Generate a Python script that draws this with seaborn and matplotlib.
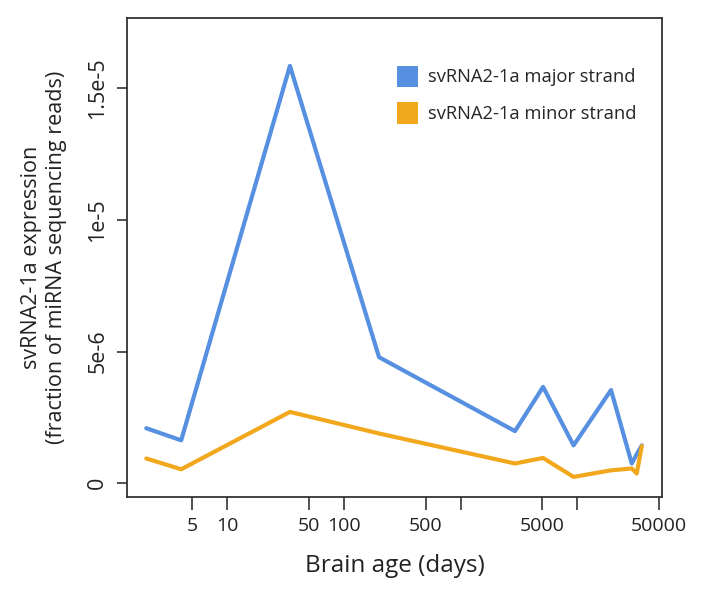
import numpy as np
import pandas as pd
import matplotlib
matplotlib.use("Agg")
import matplotlib.pyplot as plt
import seaborn as sns
from matplotlib.patches import Patch

# --- data ---
AGE_DAYS = [2.03, 4.04, 34.5, 200, 2920, 5080, 9270, 19400, 29200, 32200, 35600]
MAJOR = [2.09, 1.63, 15.86, 4.79, 1.98, 3.66, 1.44, 3.54, 0.75, 1.10, 1.44]   # x1e-6
MINOR = [0.94, 0.53, 2.71, 1.89, 0.75, 0.96, 0.24, 0.49, 0.56, 0.37, 1.41]    # x1e-6
SERIES = ["svRNA2-1a major strand", "svRNA2-1a minor strand"]
COLORS = ["#5790E0", "#F2A81D"]
X_TICKS = [5, 10, 50, 100, 500, 1000, 5000, 10000, 50000]
X_TICK_LABELS = ["5", "10", "50", "100", "500", "", "5000", "", "50000"]
Y_TICKS = [0, 5e-6, 1e-5, 1.5e-5]
Y_TICK_LABELS = ["0", "5e-6", "1e-5", "1.5e-5"]

df = pd.DataFrame({
    "age": AGE_DAYS * 2,
    "expr": [v * 1e-6 for v in MAJOR + MINOR],
    "strand": [SERIES[0]] * len(AGE_DAYS) + [SERIES[1]] * len(AGE_DAYS),
})

sns.set_style("white")
plt.rcParams["font.family"] = ["Open Sans", "DejaVu Sans"]

fig = plt.figure(figsize=(7.02, 5.99), dpi=100)
ax = fig.add_axes([0.181, 0.170, 0.762, 0.800])

sns.lineplot(data=df, x="age", y="expr", hue="strand", palette=COLORS,
             linewidth=3, ax=ax, legend=False, sort=False)

ax.set_xscale("log")
ax.set_xlim(1.39, 53000)
ax.set_ylim(-0.53e-6, 17.68e-6)

ax.set_xticks(X_TICKS)
ax.set_xticklabels(X_TICK_LABELS, fontsize=14, color="#222222")
ax.xaxis.set_minor_locator(matplotlib.ticker.NullLocator())
ax.set_yticks(Y_TICKS)
ax.set_yticklabels(Y_TICK_LABELS, fontsize=15.5, rotation=90, va="center",
                   color="#222222")

ax.tick_params(axis="x", direction="out", length=9, width=1.2, pad=5,
               colors="#333333", labelcolor="#222222", bottom=True)
ax.tick_params(axis="y", direction="out", length=7.5, width=1.2, pad=6,
               colors="#333333", labelcolor="#222222", left=True)

for s in ax.spines.values():
    s.set_color("#333333")
    s.set_linewidth(1.3)

ax.set_xlabel("Brain age (days)", fontsize=17.5, color="#222222", labelpad=14)
ax.set_ylabel("svRNA2-1a expression\n(fraction of miRNA sequencing reads)",
              fontsize=15.5, color="#222222", linespacing=1.25)
ax.yaxis.set_label_coords(-0.112, 0.5)

handles = [Patch(facecolor=c, edgecolor="none") for c in COLORS]
ax.legend(handles, SERIES, loc="upper left", bbox_to_anchor=(0.473, 0.935),
          frameon=False, fontsize=13.2, handlelength=1.15, handleheight=1.4,
          handletextpad=0.55, labelspacing=0.85)

fig.savefig("out.png", dpi=100)
